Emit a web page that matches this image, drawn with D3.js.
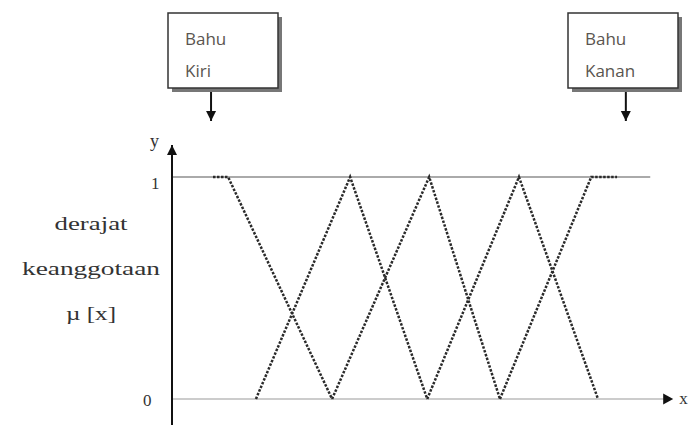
<!DOCTYPE html>
<html>
<head>
<meta charset="utf-8">
<script src="https://cdn.jsdelivr.net/npm/d3@7"></script>
<style>
  body { margin: 0; background: #fff; }
  svg { display: block; }
  .lbl { font-family: "Liberation Serif", "Times New Roman", serif; fill: #333; }
  .box-text { font-family: "Open Sans", "Liberation Sans", sans-serif; fill: #5a5550; font-size: 17px; }
</style>
</head>
<body>
<div id="chart"></div>
<script>
// membership function names and corner points (x in domain units, y = degree)
var setNames = ['Bahu Kiri', 'Segitiga 1', 'Segitiga 2', 'Segitiga 3', 'Bahu Kanan'];
var setX = [
  [8.4, 11.5, 32.8],
  [17.2, 36.5, 52.3],
  [32.8, 52.7, 67.2],
  [52.3, 71.1, 87.3],
  [67.2, 85.9, 91.2]
];
var setY = [
  [1, 1, 0],
  [0, 1, 0],
  [0, 1, 0],
  [0, 1, 0],
  [0, 1, 1]
];
var yTicks = [0, 1];
var yTickLabels = ['0', '1'];
var axisLabel = ['derajat', 'keanggotaan', 'µ [x]'];
var callouts = [['Bahu', 'Kiri'], ['Bahu', 'Kanan']];
var calloutX = [8, 93]; // where each callout points, in domain units
var topLineEnd = 98, xAxisEnd = 102.7;

var W = 688, H = 425;
var margin = {top: 177, right: 28, bottom: 26, left: 172};

var x = d3.scaleLinear().domain([0, 100]).range([margin.left, W - margin.right]);
var y = d3.scaleLinear().domain([0, 1]).range([H - margin.bottom, margin.top]);

var svg = d3.select("#chart").append("svg")
    .attr("width", W)
    .attr("height", H);

var defs = svg.append("defs");
defs.append("marker")
    .attr("id", "tri")
    .attr("viewBox", "0 0 10 10")
    .attr("refX", 10).attr("refY", 5)
    .attr("markerWidth", 10).attr("markerHeight", 11)
    .attr("markerUnits", "userSpaceOnUse")
    .attr("orient", "auto")
  .append("path")
    .attr("d", "M0,0 L10,5 L0,10 Z")
    .attr("fill", "#111");

// grey reference lines at 1 and 0
svg.append("line")
    .attr("x1", x(0)).attr("x2", x(topLineEnd))
    .attr("y1", y(1)).attr("y2", y(1))
    .attr("stroke", "#aaa").attr("stroke-width", 2);

svg.append("line")
    .attr("x1", x(0)).attr("x2", x(xAxisEnd) - 8)
    .attr("y1", y(0)).attr("y2", y(0))
    .attr("stroke", "#bbb").attr("stroke-width", 1.5);

// x arrow head
var xe = x(xAxisEnd);
svg.append("path")
    .attr("d", "M" + (xe - 10) + "," + (y(0) - 5.5) + " L" + xe + "," + y(0) + " L" + (xe - 10) + "," + (y(0) + 5.5) + " Z")
    .attr("fill", "#111");

svg.append("text")
    .attr("class", "lbl")
    .attr("x", xe + 6).attr("y", y(0) + 5)
    .attr("font-size", 17)
    .text("x");

// y axis
svg.append("line")
    .attr("x1", x(0)).attr("x2", x(0))
    .attr("y1", H).attr("y2", y(1) - 32)
    .attr("stroke", "#111").attr("stroke-width", 2)
    .attr("marker-end", "url(#tri)");

svg.append("text")
    .attr("class", "lbl")
    .attr("x", x(0) - 22).attr("y", y(1) - 30)
    .attr("font-size", 18)
    .text("y");

svg.selectAll(".ytick").data(yTicks).enter().append("text")
    .attr("class", "lbl ytick")
    .attr("x", (d) => d == 0 ? x(0) - 29 : x(0) - 21)
    .attr("y", (d) => d == 0 ? y(d) + 7 : y(d) + 12)
    .attr("font-size", 17)
    .text((d, i) => yTickLabels[i]);

// axis title, three lines
svg.selectAll(".ytitle").data(axisLabel).enter().append("text")
    .attr("class", "lbl ytitle")
    .attr("text-anchor", "middle")
    .attr("x", 91)
    .attr("y", (d, i) => 230 + i * 45)
    .attr("font-size", 19)
    .attr("textLength", (d, i) => [73, 138, 50][i])
    .attr("lengthAdjust", "spacingAndGlyphs")
    .text((d) => d);

// membership functions
var line = d3.line().x((d) => x(d[0])).y((d) => y(d[1]));

svg.selectAll(".mf").data(setNames).enter().append("path")
    .attr("class", "mf")
    .attr("d", (d, i) => line(setX[i].map((v, j) => [v, setY[i][j]])))
    .attr("fill", "none")
    .attr("stroke", "#2a2a2a")
    .attr("stroke-width", 2.5)
    .attr("stroke-dasharray", "2.5,1.5");

// callout boxes
var bw = 110, bh = 75;
var box = svg.selectAll(".callout").data(callouts).enter().append("g")
    .attr("class", "callout")
    .attr("transform", (d, i) => "translate(" + (i == 0 ? 168 : 568) + ",13)");

box.append("rect")
    .attr("x", 4).attr("y", 4)
    .attr("width", bw).attr("height", bh)
    .attr("fill", "#777");

box.append("rect")
    .attr("width", bw).attr("height", bh)
    .attr("fill", "#fff")
    .attr("stroke", "#333").attr("stroke-width", 1.5);

box.selectAll("text").data((d) => d).enter().append("text")
    .attr("class", "box-text")
    .attr("x", (d, i) => 17)
    .attr("y", (d, i) => 32 + i * 32)
    .text((d) => d);

svg.selectAll(".pointer").data(calloutX).enter().append("line")
    .attr("class", "pointer")
    .attr("x1", (d) => x(d)).attr("x2", (d) => x(d))
    .attr("y1", 92).attr("y2", 121)
    .attr("stroke", "#111").attr("stroke-width", 2)
    .attr("marker-end", "url(#tri)");
</script>
</body>
</html>
